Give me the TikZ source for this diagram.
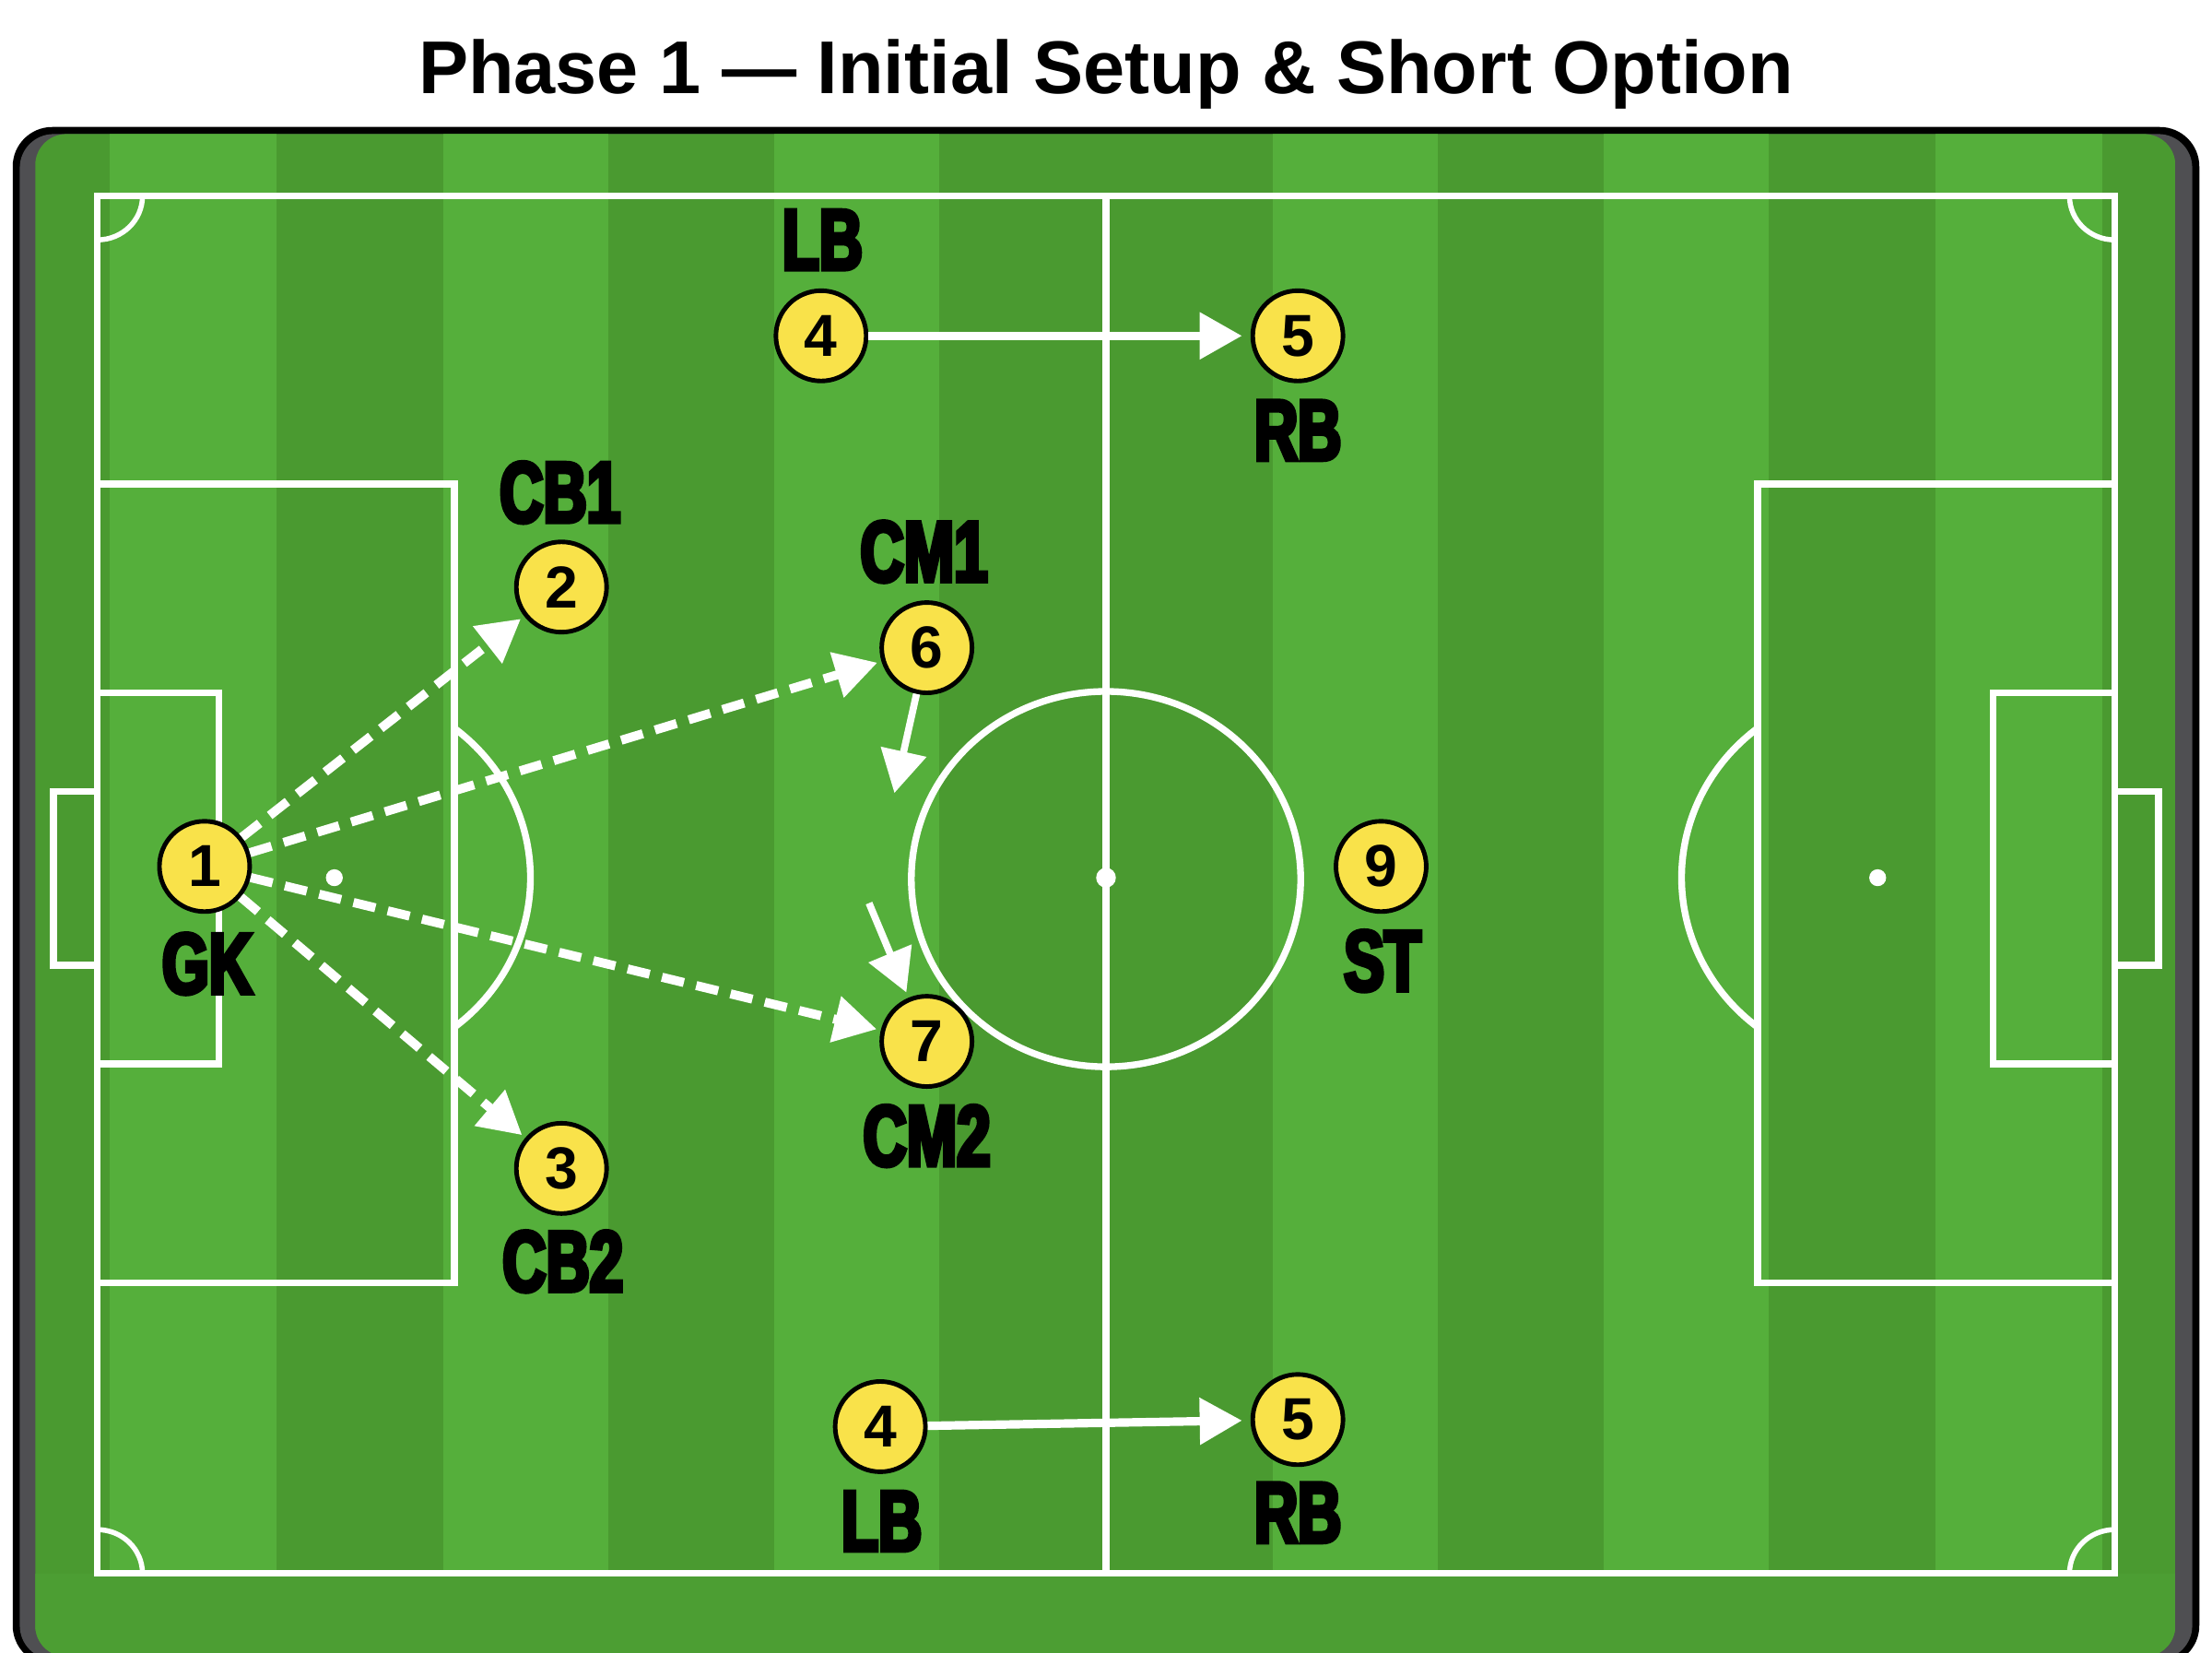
\documentclass[tikz,border=0pt]{standalone}
\usepackage{fontspec}
\setmainfont{Liberation Sans}
\newfontfamily\labfont[FakeStretch=0.70,FakeBold=5]{Liberation Sans}
\usetikzlibrary{arrows.meta}
\definecolor{lightg}{HTML}{55AF3B}
\definecolor{darkg}{HTML}{4A9A30}
\definecolor{botg}{HTML}{4C9E33}
\definecolor{frameg}{HTML}{4F4F52}
\definecolor{pyel}{HTML}{F9E24A}
\begin{document}
\begin{tikzpicture}[x=0.5pt,y=-0.5pt,
  pline/.style={white,line width=2.4pt},
  player/.style={circle,draw=black,line width=1.6pt,fill=pyel,minimum size=32pt,inner sep=0pt,
    font=\fontsize{21}{21}\selectfont\bfseries},
  lab/.style={inner sep=0pt,font=\labfont\fontsize{30.5}{30.5}\selectfont\bfseries},
  pass/.style={white,line width=3.2pt,dash pattern=on 8pt off 4.5pt,
    -{Triangle[length=15pt,width=16pt]},shorten >=1.5pt},
  run/.style={white,line width=3pt,-{Triangle[length=15pt,width=16pt]},shorten >=3pt},
  move/.style={white,line width=2.5pt,-{Triangle[length=15pt,width=16pt]}}
]
\useasboundingbox (0,0) rectangle (1568,1171);
\clip (0,0) rectangle (1568,1171);
\fill[white] (0,0) rectangle (1568,1171);

% title
\node[anchor=base,inner sep=0pt,font=\fontsize{26.5}{26.5}\selectfont\bfseries] (title) at (784,66)
  {Phase 1 — Initial Setup \& Short Option};

% frame
\fill[black,rounded corners=14pt] (9,90) rectangle (1559,1180);
\fill[frameg,rounded corners=12pt] (14,95) rectangle (1554,1176);
\begin{scope}
  \clip[rounded corners=11pt] (25,95) rectangle (1542,1174);
  \fill[darkg] (25,95) rectangle (1542,1174);
  \foreach \a/\b in {78/196,314/431,549/666,902/1019,1137/1254,1372/1490}
    \fill[lightg] (\a,95) rectangle (\b,1115);
  \fill[botg] (25,1115) rectangle (1542,1174);
\end{scope}

% pitch markings
\draw[pline] (69,139) rectangle (1499,1115);
\draw[pline] (784,139) -- (784,1115);
\draw[pline] (784,623) ellipse [x radius=138, y radius=133];
\fill[white] (784,622) ellipse [x radius=7, y radius=7];
% left
\draw[pline] (69,343) rectangle (322,909);
\draw[pline] (69,491) rectangle (155,754);
\draw[pline] (38,561) rectangle (69,684);
\fill[white] (237,622) ellipse [x radius=6, y radius=6];
\draw[pline] (322,516) arc[start angle=-52.3, end angle=52.3, x radius=139, y radius=134];
% right
\draw[pline] (1246,343) rectangle (1499,909);
\draw[pline] (1413,491) rectangle (1499,754);
\draw[pline] (1499,561) rectangle (1530,684);
\fill[white] (1331,622) ellipse [x radius=6, y radius=6];
\draw[pline] (1246,728) arc[start angle=127.7, end angle=232.3, x radius=139, y radius=134];
% corners
\draw[pline,line width=1.8pt] (101,139) arc[start angle=0, end angle=90, x radius=32, y radius=31];
\draw[pline,line width=1.8pt] (1467,139) arc[start angle=180, end angle=90, x radius=32, y radius=31];
\draw[pline,line width=1.8pt] (101,1115) arc[start angle=0, end angle=-90, x radius=32, y radius=31];
\draw[pline,line width=1.8pt] (1467,1115) arc[start angle=180, end angle=270, x radius=32, y radius=31];

% players
\node[player] (n1) at (145,614) {1};
\node[player] (n2) at (398,416) {2};
\node[player] (n3) at (398,828) {3};
\node[player] (n6) at (657,459) {6};
\node[player] (n7) at (657,738) {7};
\node[player] (t4) at (582,238) {4};
\node[player] (t5) at (920,238) {5};
\node[player] (n9) at (979,614) {9};
\node[player] (b4) at (624,1011) {4};
\node[player] (b5) at (920,1006) {5};

% labels
\node[lab] (lGK) at (147,683) {GK};
\node[lab] (lCB1) at (397,349) {CB1};
\node[lab] (lCB2) at (399,894) {CB2};
\node[lab] (lCM1) at (655,391) {CM1};
\node[lab] (lCM2) at (657,805) {CM2};
\node[lab] (lLBt) at (583,170) {LB};
\node[lab] (lRBt) at (920,305) {RB};
\node[lab] (lST) at (980,681) {ST};
\node[lab] (lLBb) at (625,1078) {LB};
\node[lab] (lRBb) at (920,1072) {RB};

% connectors
\draw[pass] (n1) -- (n2);
\draw[pass] (n1) -- (n6);
\draw[pass] (n1) -- (n7);
\draw[pass] (n1) -- (n3);
\draw[run] (t4) -- (t5);
\draw[run] (b4) -- (b5);
\coordinate (m1) at (634,562);
\coordinate (m2) at (616,640);
\draw[move] (n6) -- (m1);
\draw[move,shorten >=2pt] (m2) -- (n7);
\end{tikzpicture}
\end{document}
